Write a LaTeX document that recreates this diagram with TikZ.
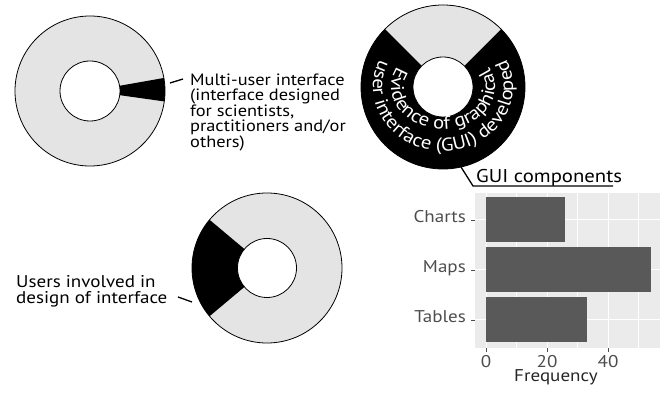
\documentclass[tikz,border=0pt]{standalone}
\usepackage{fontspec}
\setmainfont[FakeStretch=1.12]{PT Sans}
\usetikzlibrary{decorations.text}
\definecolor{ringgrey}{RGB}{228,228,228}
\definecolor{panelgrey}{RGB}{235,235,235}
\definecolor{bargrey}{RGB}{89,89,89}
\definecolor{axisgrey}{RGB}{77,77,77}

\begin{document}
\begin{tikzpicture}[x=1pt, y=1pt,
		label_style/.style={font=\fontsize{16.4}{14.6}\selectfont, align=left, inner sep=0pt},
		axis_style/.style={font=\fontsize{17}{17}\selectfont, text=axisgrey, inner sep=0pt},
		lead_style/.style={draw=black, line width=1.3pt},
		ring_style/.style={draw=black, line width=0.8pt},
		grid_major/.style={draw=white, line width=1pt},
		grid_minor/.style={draw=white, line width=0.5pt},
		tick_style/.style={draw=axisgrey, line width=0.8pt}]

	\useasboundingbox (0,0) rectangle (669,393);

	% donuts
	\coordinate (c1) at (90,302);
	\coordinate (c2) at (443,306);
	\coordinate (c3) at (267,125);

	\fill[ringgrey] (c1) circle (75);
	\fill[black] (c1) -- ++(-8:75) arc[start angle=-8, end angle=10, radius=75] -- cycle;
	\filldraw[ring_style, fill=white] (c1) circle (30);
	\draw[ring_style] (c1) circle (75);

	\fill[black] (c2) circle (82);
	\fill[ringgrey] (c2) -- ++(45:82) arc[start angle=45, end angle=135, radius=82] -- cycle;
	\filldraw[ring_style, fill=white] (c2) circle (30);
	\draw[ring_style] (c2) circle (82);

	\fill[ringgrey] (c3) circle (75);
	\fill[black] (c3) -- ++(140:75) arc[start angle=140, end angle=220, radius=75] -- cycle;
	\filldraw[ring_style, fill=white] (c3) circle (29.5);
	\draw[ring_style] (c3) circle (75);

	% text round the ring
	\path[decorate, decoration={text along path, text align=center, text color=white,
		text={|\fontsize{18.5}{18.5}\selectfont|Evidence of graphical}}]
		(c2) ++(100:52 and 42) arc[start angle=100, end angle=440, x radius=52, y radius=42];
	\path[decorate, decoration={text along path, text align=center, text color=white,
		text={|\fontsize{18.5}{18.5}\selectfont|user interface (GUI) developed}}]
		(c2) ++(100:70 and 64) arc[start angle=100, end angle=440, x radius=70, y radius=64];

	% labels
	\node[label_style, anchor=north west] (multi) at (190,319)
		{Multi-user interface\\(interface designed\\for scientists,\\practitioners and/or\\others)};
	\coordinate (multi_a) at (170,310);
	\coordinate (multi_b) at (183,314);
	\draw[lead_style] (multi_a) -- (multi_b);

	\node[label_style, font=\fontsize{17}{16.5}\selectfont, anchor=north west] (users) at (16,118)
		{Users involved in\\design of interface};
	\coordinate (users_a) at (178,96);
	\coordinate (users_b) at (192,91);
	\draw[lead_style] (users_a) -- (users_b);

	\node[label_style, font=\fontsize{18.5}{18.5}\selectfont, anchor=base west] (gui) at (476,210) {GUI components};
	\coordinate (gui_a) at (461,226);
	\coordinate (gui_b) at (473,207);
	\coordinate (gui_c) at (613,207);
	\draw[lead_style] (gui_a) -- (gui_b) -- (gui_c);

	% bar chart
	\fill[panelgrey] (475,45) rectangle (660,200);
	\draw[grid_minor] (516.5,45) -- (516.5,200);
	\draw[grid_minor] (577.5,45) -- (577.5,200);
	\draw[grid_minor] (638.5,45) -- (638.5,200);
	\draw[grid_major] (486,45) -- (486,200);
	\draw[grid_major] (547,45) -- (547,200);
	\draw[grid_major] (608,45) -- (608,200);
	\draw[grid_major] (475,173) -- (660,173);
	\draw[grid_major] (475,123) -- (660,123);
	\draw[grid_major] (475,73) -- (660,73);

	\fill[bargrey] (486,150.5) rectangle (565.3,195.5);
	\fill[bargrey] (486,100.5) rectangle (650.7,145.5);
	\fill[bargrey] (486,50.5) rectangle (586.7,95.5);

	\node[axis_style, anchor=mid east] (charts) at (466,173) {Charts};
	\node[axis_style, anchor=mid east] (maps) at (466,123) {Maps};
	\node[axis_style, anchor=mid east] (tables) at (466,73) {Tables};
	\draw[tick_style] (471,173) -- (475,173);
	\draw[tick_style] (471,123) -- (475,123);
	\draw[tick_style] (471,73) -- (475,73);

	\draw[tick_style] (486,45) -- (486,41);
	\draw[tick_style] (547,45) -- (547,41);
	\draw[tick_style] (608,45) -- (608,41);
	\node[axis_style, anchor=base] (x0) at (486,25) {0};
	\node[axis_style, anchor=base] (x20) at (547,25) {20};
	\node[axis_style, anchor=base] (x40) at (608,25) {40};
	\node[axis_style, text=black!85, anchor=base] (freq) at (556,11) {Frequency};
\end{tikzpicture}
\end{document}
